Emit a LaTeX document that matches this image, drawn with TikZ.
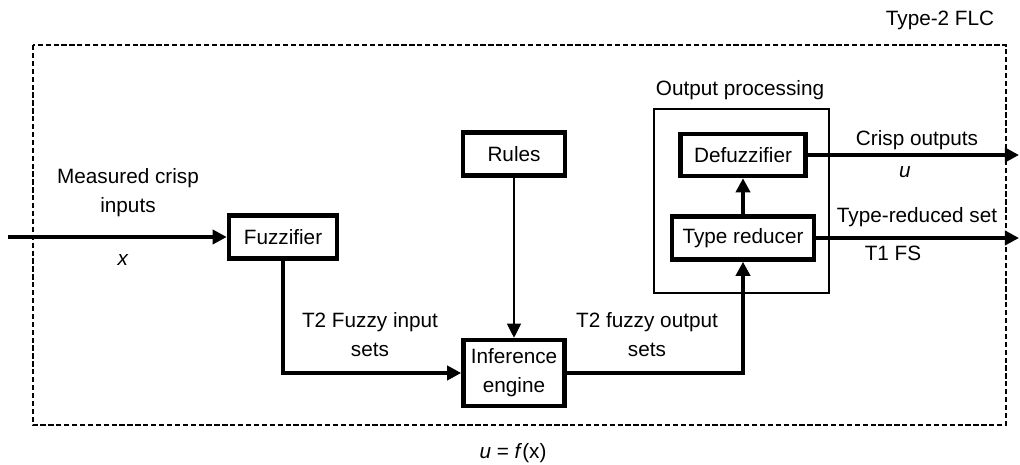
\documentclass[tikz,border=0pt]{standalone}
\usepackage{fontspec}
\setmainfont{Liberation Sans}
\usetikzlibrary{arrows.meta}

\begin{document}
\begin{tikzpicture}[x=0.02cm,y=-0.02cm,>={Triangle[length=8pt,width=8pt]},
        font=\fontsize{11.8}{16.5}\selectfont,
        blk/.style={draw, line width=2.6pt, minimum height=0.86cm, inner sep=2pt, align=center},
        lbl/.style={inner sep=0pt, align=center},
        flow/.style={->, line width=2.6pt},
        sig/.style={->, line width=0.6pt}]
        \useasboundingbox (0,0) rectangle (1020,465);

        % dashed frame of the whole controller and the output stage
        \draw[line width=0.6pt, dash pattern=on 3pt off 1.5pt] (33,45) rectangle (1006,425);
        \draw[line width=0.6pt] (654,109) rectangle (829,293);

        \node[lbl] (flc) at (940,20) {Type-2 FLC};
        \node[lbl] (outp) at (740,90) {Output processing};

        \node[blk, minimum width=2.16cm] (fuz) at (283,237) {Fuzzifier};

        \node[blk, minimum width=2.04cm] (rules) at (514,154) {Rules};

        \node[blk, minimum width=2.02cm, minimum height=1.32cm] (inf) at (514,373) {Inference\\engine};

        \node[blk, minimum width=2.5cm, minimum height=0.84cm] (defz) at (743,155) {Defuzzifier};

        \node[blk, minimum width=2.84cm] (tr) at (743,238) {Type reducer};

        \coordinate (in) at (8,237);
        \coordinate (o1) at (1019,155);
        \coordinate (o2) at (1019,238);

        \node[lbl] (xin) at (128,193) {Measured crisp\\inputs};
        \node[lbl] (xsym) at (123,260) {\textit{x}};
        \node[lbl] (t2in) at (370,335) {T2 Fuzzy input\\sets};
        \node[lbl] (t2out) at (647,335) {T2 fuzzy output\\sets};
        \node[lbl] (crisp) at (917,140) {Crisp outputs};
        \node[lbl] (usym) at (905,172) {\textit{u}};
        \node[lbl] (trs) at (917,217) {Type-reduced set};
        \node[lbl] (t1) at (893,253) {T1 FS};
        \node[lbl] (map) at (513,453) {\textit{u} = \textit{f}(x)};

        \draw[flow] (in) -- (fuz);
        \draw[flow] (fuz) |- (inf);
        \draw[sig] (rules) -- (inf);
        \draw[flow] (inf) -| (tr);
        \draw[flow] (tr) -- (defz);
        \draw[flow] (defz) -- (o1);
        \draw[flow] (tr) -- (o2);

    \end{tikzpicture}
\end{document}
